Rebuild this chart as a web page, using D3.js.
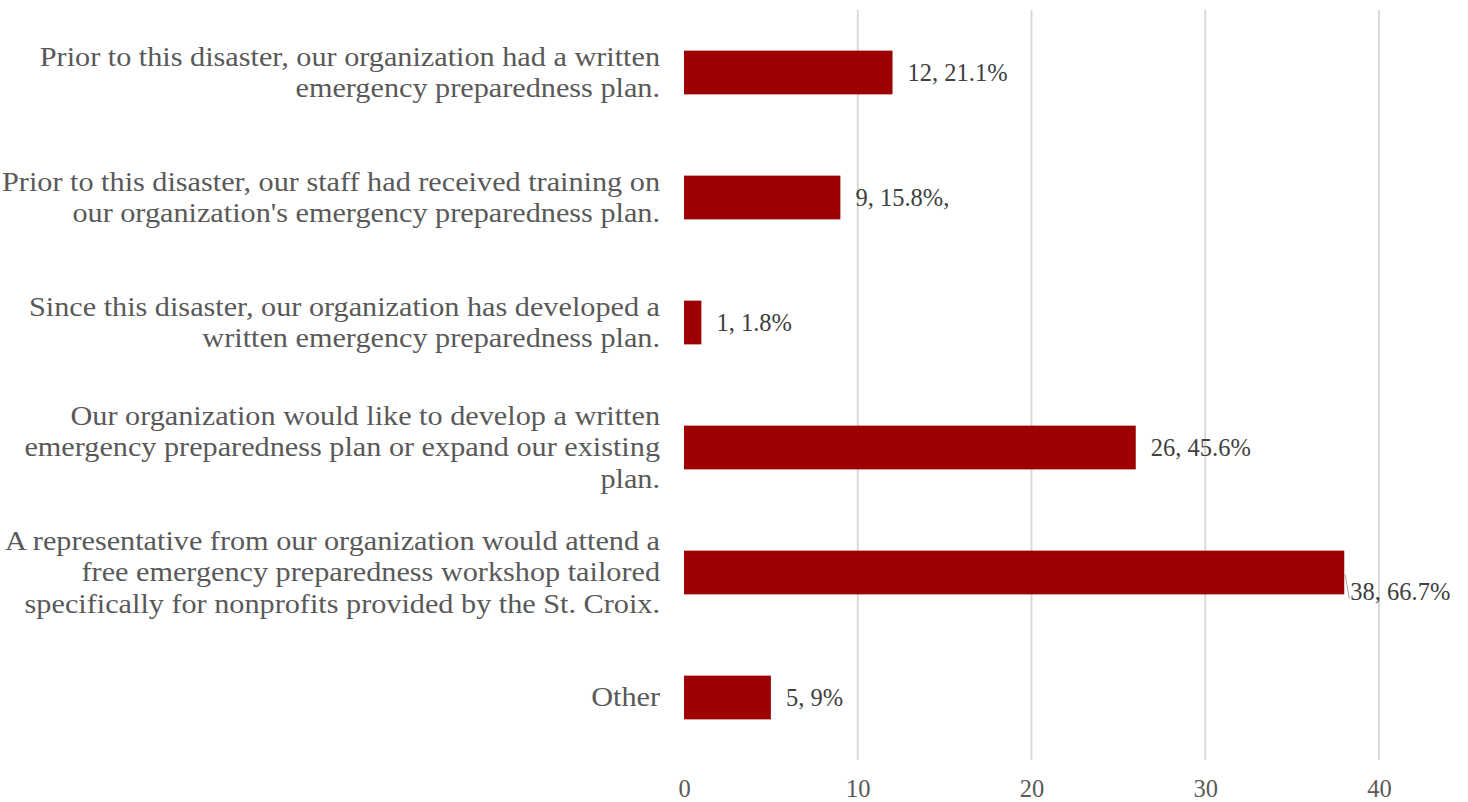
<!DOCTYPE html>
<html><head><meta charset="utf-8">
<script src="https://cdn.jsdelivr.net/npm/d3@7"></script>
<style>body{margin:0;background:#fff}</style>
</head><body>
<svg id="c" width="1468" height="802"></svg>
<script>
const categories = [
  ["Prior to this disaster, our organization had a written","emergency preparedness plan."],
  ["Prior to this disaster, our staff had received training on","our organization's emergency preparedness plan."],
  ["Since this disaster, our organization has developed a","written emergency preparedness plan."],
  ["Our organization would like to develop a written","emergency preparedness plan or expand our existing","plan."],
  ["A representative from our organization would attend a","free emergency preparedness workshop tailored","specifically for nonprofits provided by the St. Croix."],
  ["Other"]
];
const values = [12, 9, 1, 26, 38, 5];
const valueLabels = ["12, 21.1%", "9, 15.8%,", "1, 1.8%", "26, 45.6%", "38, 66.7%", "5, 9%"];
const ticks = [0, 10, 20, 30, 40];

const svg = d3.select("#c");
const font = "'Liberation Serif', 'DejaVu Serif', serif";
const x = d3.scaleLinear().domain([0, 40]).range([684, 1379]);
const y = d3.scaleBand().domain(d3.range(categories.length)).range([10, 760]).paddingInner(0.65).paddingOuter(0.325);

// gridlines
svg.append("g").selectAll("line").data(ticks.filter(t => t > 0)).join("line")
  .attr("x1", d => x(d)).attr("x2", d => x(d)).attr("y1", 10).attr("y2", 760)
  .attr("stroke", "#d9d9d9").attr("stroke-width", 2);

// x axis
const xAxis = d3.axisBottom(x).tickValues(ticks).tickSize(0).tickPadding(0);
const gx = svg.append("g").attr("transform", "translate(0,797)").call(xAxis);
gx.select(".domain").remove();
gx.selectAll("text").attr("font-family", font).attr("font-size", 24.5).attr("fill", "#595959")
  .attr("y", 0).attr("dy", 0);

// bars
svg.append("g").selectAll("rect").data(values).join("rect")
  .attr("x", x(0)).attr("y", (d, i) => y(i)).attr("width", d => x(d) - x(0)).attr("height", y.bandwidth())
  .attr("fill", "#9c0000");

// category labels
const lh = 31.5;
const cg = svg.append("g").attr("transform", "translate(660,0) scale(1.08,1)");
categories.forEach((lines, i) => {
  const cy = y(i) + y.bandwidth() / 2;
  const t = cg.append("text").attr("text-anchor", "end").attr("font-family", font).attr("font-size", 28)
    .attr("fill", "#595959");
  lines.forEach((ln, j) => {
    t.append("tspan").attr("x", 0).attr("y", cy + (j - (lines.length - 1) / 2) * lh).attr("dy", "0.32em").text(ln);
  });
});

// value labels
const vg = svg.append("g");
values.forEach((v, i) => {
  const cy = y(i) + y.bandwidth() / 2;
  let lx = x(v) + 15, ly = cy;
  if (i === 4) {
    lx = x(v) + 6; ly = cy + 19;
    vg.append("line").attr("x1", x(v) + 1).attr("y1", cy + 2).attr("x2", x(v) + 5).attr("y2", cy + 26)
      .attr("stroke", "#a6a6a6").attr("stroke-width", 1);
  }
  vg.append("text").attr("x", lx).attr("y", ly).attr("dy", "0.35em")
    .attr("font-family", font).attr("font-size", 24.5).attr("fill", "#404040").text(valueLabels[i]);
});
</script>
</body></html>
